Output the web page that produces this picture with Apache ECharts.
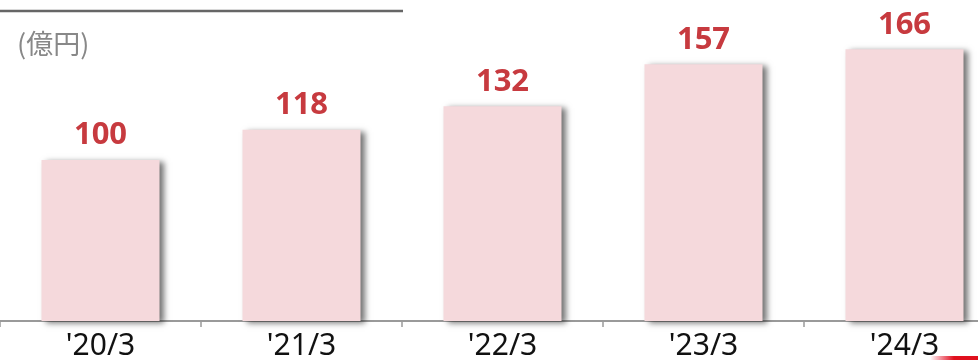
<!DOCTYPE html>
<html>
<head>
<meta charset="utf-8">
<script src="https://cdn.jsdelivr.net/npm/echarts@6/dist/echarts.min.js"></script>
<style>html,body{margin:0;padding:0;background:#fff;}#c{width:978px;height:360px;}</style>
</head>
<body>
<div id="c"></div>
<script>
const categories = ["'20/3", "'21/3", "'22/3", "'23/3", "'24/3"];
const values = [100, 118, 132, 157, 166];
const unitLabel = "(億円)";

const chart = echarts.init(document.getElementById('c'), null, {renderer: 'canvas'});
chart.setOption({
  animation: false,
  backgroundColor: '#ffffff',
  grid: {left: 0, width: 1005, top: 9, bottom: 39, containLabel: false, outerBoundsMode: 'none'},
  xAxis: {
    type: 'category',
    data: categories,
    axisLine: {lineStyle: {color: '#9a9a9a', width: 2}},
    axisTick: {show: true, length: 6, lineStyle: {color: '#9a9a9a', width: 1.5}},
    axisLabel: {color: '#111', fontFamily: 'Noto Sans', fontSize: 30, margin: 10}
  },
  yAxis: {
    type: 'value', min: 4, max: 190,
    show: false,
    splitLine: {show: false}
  },
  series: [{
    type: 'bar',
    data: values,
    barWidth: 118,
    z: 1,
    itemStyle: {
      color: '#f5d9dc',
      shadowColor: 'rgba(0,0,0,0.55)',
      shadowBlur: 6,
      shadowOffsetX: 4,
      shadowOffsetY: 2
    },
    label: {
      show: true,
      position: 'top',
      distance: 9,
      color: '#c73a3f',
      fontFamily: 'Noto Sans',
      fontWeight: 'bold',
      fontSize: 31
    }
  }],
  graphic: [
    {type: 'line', shape: {x1: 0, y1: 11, x2: 403, y2: 11}, style: {stroke: '#666', lineWidth: 2.5}, z: 10},
    {type: 'text', left: 17, top: 30, style: {text: unitLabel, fill: '#888', font: '27px "Noto Sans CJK JP"'}, z: 10},
    {type: 'rect', shape: {x: 930, y: 356, width: 48, height: 4},
     style: {fill: {type: 'linear', x: 0, y: 0, x2: 1, y2: 0, colorStops: [{offset: 0, color: 'rgba(230,0,30,0)'}, {offset: 0.5, color: '#e0101e'}, {offset: 1, color: '#e0101e'}]}}, z: 10}
  ]
});
</script>
</body>
</html>
